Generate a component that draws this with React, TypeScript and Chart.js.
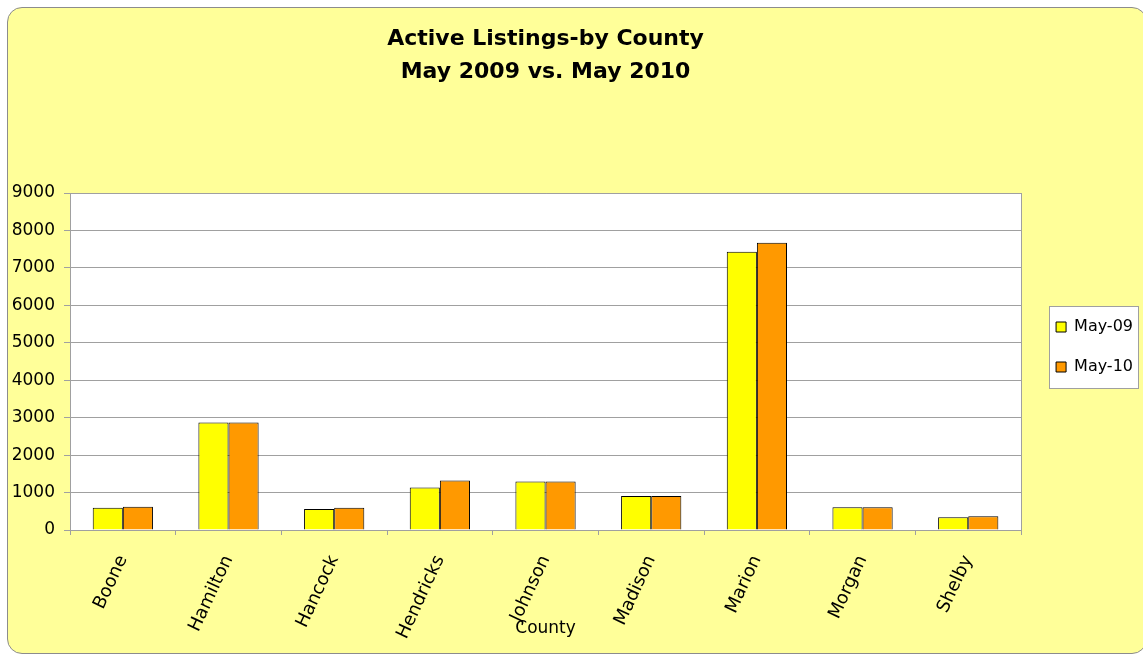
import React, { useEffect, useRef } from "react";
import { Chart, registerables } from "chart.js";

Chart.register(...registerables);

const counties = ["Boone", "Hamilton", "Hancock", "Hendricks", "Johnson", "Madison", "Marion", "Morgan", "Shelby"];
const may09 = [591, 2874, 564, 1137, 1298, 907, 7429, 605, 338];
const may10 = [618, 2874, 591, 1325, 1298, 907, 7669, 605, 365];
const seriesLabels = ["May-09", "May-10"];
const titleLines = ["Active Listings-by County", "May 2009 vs. May 2010"];
const xAxisTitle = "County";

const FONT = "'DejaVu Sans', Verdana, sans-serif";
const GRID = "#a0a0a0";

const plotBgPlugin = {
  id: "plotBg",
  beforeDraw(chart: any) {
    const { ctx, chartArea } = chart;
    ctx.save();
    ctx.fillStyle = "#ffffff";
    ctx.fillRect(chartArea.left, chartArea.top, chartArea.right - chartArea.left, chartArea.bottom - chartArea.top);
    const boxes = chart.legend && chart.legend.legendHitBoxes;
    if (boxes && boxes.length) {
      let l = Infinity, t = Infinity, r = -Infinity, b = -Infinity;
      boxes.forEach((h: any) => {
        l = Math.min(l, h.left);
        t = Math.min(t, h.top);
        r = Math.max(r, h.left + h.width);
        b = Math.max(b, h.top + h.height);
      });
      const x0 = Math.round(l - 7) + 0.5;
      const y0 = Math.round(t - 13) + 0.5;
      const x1 = Math.round(r + 5) + 0.5;
      const y1 = Math.round(b + 13) + 0.5;
      ctx.fillStyle = "#ffffff";
      ctx.fillRect(x0, y0, x1 - x0, y1 - y0);
      ctx.strokeStyle = GRID;
      ctx.lineWidth = 1;
      ctx.strokeRect(x0, y0, x1 - x0, y1 - y0);
    }
    ctx.restore();
  },
};

export default function App() {
  const canvasRef = useRef<HTMLCanvasElement | null>(null);

  useEffect(() => {
    document.body.style.margin = "0";
    const canvas = canvasRef.current;
    if (!canvas) return;
    Chart.defaults.font.family = FONT;
    Chart.defaults.color = "#000";
    const chart = new Chart(canvas, {
      type: "bar",
      data: {
        labels: counties,
        datasets: [
          {
            label: seriesLabels[0],
            data: may09,
            backgroundColor: "#ffff00",
            borderColor: "#000000",
            borderWidth: 1,
            categoryPercentage: 0.57,
            barPercentage: 1,
          },
          {
            label: seriesLabels[1],
            data: may10,
            backgroundColor: "#ff9900",
            borderColor: "#000000",
            borderWidth: 1,
            categoryPercentage: 0.57,
            barPercentage: 1,
          },
        ],
      },
      options: {
        responsive: false,
        animation: false,
        maintainAspectRatio: false,
        layout: { padding: 0 },
        plugins: {
          tooltip: { enabled: false },
          title: {
            display: true,
            text: titleLines,
            fullSize: false,
            color: "#000",
            font: { family: FONT, size: 22, weight: "bold", lineHeight: 1.5 },
            padding: { top: 23, bottom: 104 },
          },
          legend: {
            display: true,
            position: "right",
            align: "center",
            title: { display: true, text: "", font: { size: 10 }, padding: { top: 26, bottom: 0 } },
            labels: {
              boxWidth: 10,
              boxHeight: 10,
              padding: 24,
              color: "#000",
              font: { family: FONT, size: 16 },
            },
          },
        },
        scales: {
          x: {
            offset: true,
            grid: { display: true, drawOnChartArea: false, offset: true, tickLength: 5, color: GRID },
            border: { display: true, color: GRID },
            ticks: { minRotation: 65, maxRotation: 65, padding: 17, color: "#000", font: { family: FONT, size: 18 } },
            title: { display: true, text: xAxisTitle, color: "#000", font: { family: FONT, size: 17 }, padding: { top: 0, bottom: 17 } },
            afterFit(scale: any) {
              scale.height = 126;
            },
          },
          y: {
            min: 0,
            max: 9000,
            position: "left",
            grid: { color: GRID, tickLength: 6, drawTicks: true },
            border: { display: true, color: GRID },
            ticks: {
              stepSize: 1000,
              padding: 9,
              color: "#000",
              font: { family: FONT, size: 17 },
              callback: (v: any) => String(v),
            },
            afterFit(scale: any) {
              scale.width = 70;
            },
          },
          y2: {
            type: "linear",
            position: "right",
            grid: { drawOnChartArea: false, drawTicks: false },
            border: { display: true, color: GRID },
            ticks: { display: false },
            afterFit(scale: any) {
              scale.width = 11;
            },
          },
        },
      },
      plugins: [plotBgPlugin],
    } as any);
    return () => chart.destroy();
  }, []);

  return (
    <div style={{ position: "relative", width: 1143, height: 656, overflow: "hidden" }}>
      <div
        style={{
          position: "absolute",
          left: 7,
          top: 7,
          width: 1138,
          height: 645,
          background: "#ffff99",
          border: "1px solid #8c8c8c",
          borderRadius: 15,
        }}
      />
      <canvas ref={canvasRef} width={1143} height={656} style={{ position: "absolute", left: 0, top: 0 }} />
    </div>
  );
}
